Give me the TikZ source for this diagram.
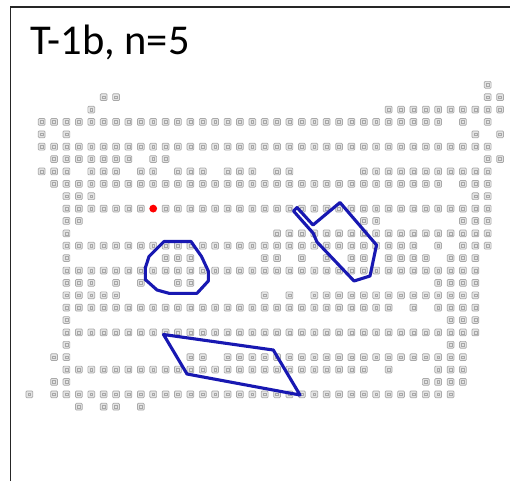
\documentclass[tikz,border=0pt]{standalone}
\usepackage{fontspec}
\setmainfont{Carlito}
\definecolor{polyblue}{RGB}{24,24,178}
\definecolor{cellfill}{RGB}{228,228,228}
\definecolor{celledge}{RGB}{168,168,168}
\tikzset{
  cellbox/.style={fill=cellfill, draw=celledge, line width=0.7pt, rounded corners=1pt},
  cellmark/.style={draw=celledge, line width=0.5pt},
  region/.style={draw=polyblue, line width=3.1pt, line join=round, line cap=round},
  frameline/.style={draw=black!85, line width=1.8pt}
}
\begin{document}
\begin{tikzpicture}[x=1pt,y=-1pt]
\useasboundingbox (0,0) rectangle (510,481);
\fill[white] (0,0) rectangle (510,481);
\draw[frameline] (10.5,481) -- (10.5,6.8) -- (510,6.8);
\node[anchor=base west, font=\fontsize{42.5}{42.5}\selectfont, inner sep=0pt] (title) at (30,55) {T-1b, n=5};
% grid of cells: row/first column/last column
\foreach \r/\a/\b in {
 0/37/37,
 1/6/7, 1/37/38,
 2/5/5, 2/29/38,
 3/1/33, 3/35/35, 3/37/37,
 4/1/1, 4/3/3, 4/36/36, 4/38/38,
 5/1/37,
 6/2/8, 6/10/11, 6/37/38,
 7/1/3, 7/5/7, 7/9/10, 7/12/14, 7/16/18, 7/20/21, 7/27/37,
 8/2/33, 8/35/37,
 9/3/5, 9/36/37,
 10/3/9, 10/11/37,
 11/3/4, 11/27/28, 11/35/37,
 12/3/3, 12/20/37,
 13/3/31, 13/33/33, 13/35/37,
 14/3/3, 14/11/13, 14/19/20, 14/22/22, 14/24/24, 14/26/27, 14/29/32, 14/34/36,
 15/3/36,
 16/3/5, 16/7/7, 16/9/9, 16/12/13, 16/33/36,
 17/3/7, 17/19/19, 17/21/21, 17/23/36,
 18/3/29, 18/31/31, 18/33/36,
 19/3/3, 19/34/36,
 20/3/36,
 21/3/3, 21/34/35,
 22/2/3, 22/13/14, 22/16/35,
 23/3/27, 23/29/29, 23/33/35,
 24/2/3, 24/32/35,
 25/0/0, 25/2/34,
 26/4/4, 26/6/7, 26/9/9}
{
  \foreach \c in {\a,...,\b}{
    \pgfmathsetmacro\xx{29.3+12.39*\c}
    \pgfmathsetmacro\yy{84.8+12.38*\r}
    \draw[cellbox] (\xx-3.4,\yy-3.4) rectangle ++(6.8,6.8);
    \draw[cellmark] (\xx-1.4,\yy-1.4) rectangle ++(2.8,2.8);
  }
}
% red marker
\fill[red] (153.2,208.6) circle (3.9);
% blue regions
\draw[region] (164,241.5) -- (191,241.5) -- (201.5,256.5) -- (208.3,271) -- (208.3,281) -- (197,293.3) -- (169,293.3) -- (157,290) -- (145.3,279.5) -- (145.3,268) -- (149,256.5) -- cycle;
\draw[region] (340,202.5) -- (376.5,245) -- (370,276) -- (354,281) -- (317,242) -- (313,233) -- (293.5,211) -- (297,207.5) -- (313,225) -- cycle;
\draw[region] (163.5,334.5) -- (273.3,350) -- (300,395) -- (187,374) -- cycle;
\end{tikzpicture}
\end{document}
